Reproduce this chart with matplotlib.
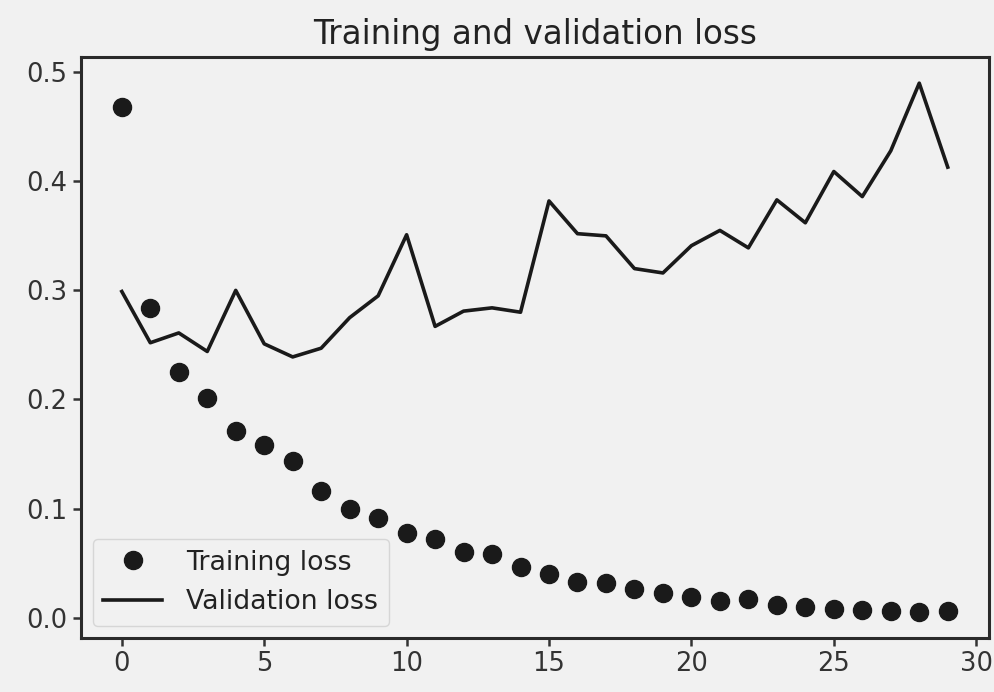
import numpy as np
import matplotlib
matplotlib.use("Agg")
import matplotlib.pyplot as plt

# loss por epoca
epochs = np.arange(0, 30)
loss = [0.468, 0.284, 0.225, 0.201, 0.171, 0.158, 0.144, 0.116, 0.100, 0.091,
        0.078, 0.072, 0.060, 0.058, 0.046, 0.040, 0.033, 0.032, 0.026, 0.023,
        0.019, 0.015, 0.017, 0.012, 0.0095, 0.008, 0.0066, 0.006, 0.0055, 0.0058]
val_loss = [0.299, 0.252, 0.261, 0.244, 0.300, 0.251, 0.239, 0.247, 0.275, 0.295,
            0.351, 0.267, 0.281, 0.284, 0.280, 0.382, 0.352, 0.350, 0.320, 0.316,
            0.341, 0.355, 0.339, 0.383, 0.362, 0.409, 0.386, 0.428, 0.490, 0.413]

plt.rcParams["font.size"] = 18.5
plt.rcParams["text.color"] = "#222222"
plt.rcParams["xtick.color"] = "#333333"
plt.rcParams["ytick.color"] = "#333333"

fig = plt.figure(figsize=(9.94, 6.92), dpi=100, facecolor="#f1f1f1")
ax = fig.add_subplot(111, facecolor="#f1f1f1")
fig.subplots_adjust(left=0.081, right=0.995, top=0.918, bottom=0.078)

ax.plot(epochs, loss, "o", color="#1a1a1a", markersize=13, label="Training loss")
ax.plot(epochs, val_loss, "-", color="#1a1a1a", linewidth=2.6, label="Validation loss")

ax.set_title("Training and validation loss", fontsize=23.5, pad=9)
ax.set_xticks([0, 5, 10, 15, 20, 25, 30])
ax.set_yticks([0.0, 0.1, 0.2, 0.3, 0.4, 0.5])
ax.tick_params(width=1.8, length=6)
for s in ax.spines.values():
    s.set_linewidth(2.2)
    s.set_color("#2a2a2a")

ax.legend(loc="lower left", fontsize=19.3, frameon=True, edgecolor="#d0d0d0",
          facecolor="#f1f1f1", framealpha=0.8, handlelength=2.2,
          handletextpad=0.9, borderaxespad=0.45)

fig.savefig("out.png", dpi=100, facecolor=fig.get_facecolor())
